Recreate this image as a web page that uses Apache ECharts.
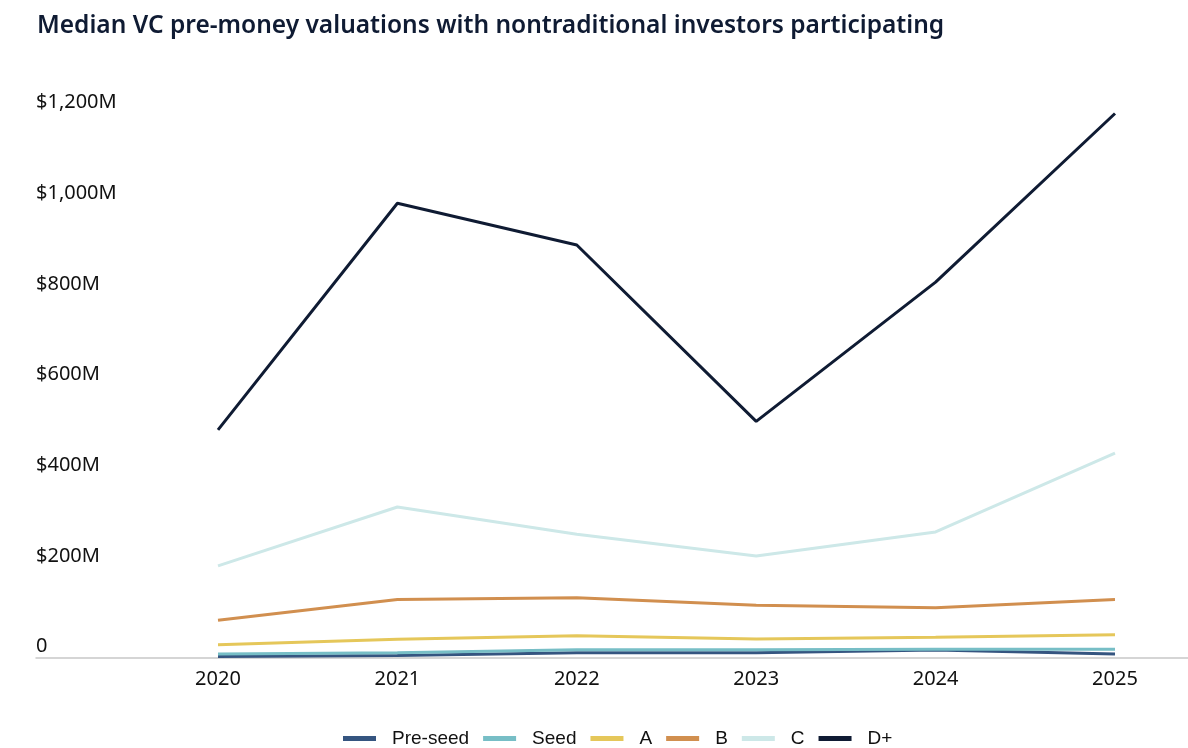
<!DOCTYPE html>
<html>
<head>
<meta charset="utf-8">
<script src="https://cdn.jsdelivr.net/npm/echarts@6/dist/echarts.min.js"></script>
<style>
html,body{margin:0;padding:0;background:#fff;}
#chart{width:1188px;height:748px;}
</style>
</head>
<body>
<div id="chart"></div>
<script>
const years = ['2020', '2021', '2022', '2023', '2024', '2025'];
const preSeed = [2, 4.4, 10.6, 10.6, 16.5, 7.7];
const seed = [7.7, 10.6, 17, 17, 18, 18];
const seriesA = [28, 40, 48, 41, 44.5, 50];
const seriesB = [82, 128, 132, 115, 110, 128];
const seriesC = [202, 332, 272, 224, 277, 451];
const seriesD = [502, 1002, 910, 521, 828, 1200];
const yTicks = [0, 200, 400, 600, 800, 1000, 1200];

const names = ['Pre-seed', 'Seed', 'A', 'B', 'C', 'D+'];
const colors = ['#355580', '#77bec6', '#e5c75a', '#d18f4f', '#cde8e8', '#0f1b33'];
const data = [preSeed, seed, seriesA, seriesB, seriesC, seriesD];

const chart = echarts.init(document.getElementById('chart'));
chart.setOption({
  animation: false,
  backgroundColor: '#ffffff',
  title: {
    text: 'Median VC pre-money valuations with nontraditional investors participating',
    left: 32, top: 9,
    textStyle: { fontFamily: 'Noto Sans', fontWeight: 600, fontSize: 24.5, color: '#0f1b33' }
  },
  legend: {
    left: 343, top: 729, padding: 0,
    itemWidth: 33, itemHeight: 5, itemGap: 14,
    icon: 'rect',
    lineStyle: { width: 4.5 },
    data: names,
    textStyle: { fontFamily: 'Liberation Sans', fontSize: 19, color: '#111', padding: [0, 0, 0, 11] }
  },
  grid: [
    { left: 218, right: 73, top: 113.5, bottom: 90.5 },
    { left: 36, right: 0, top: 113.5, bottom: 90.5 }
  ],
  xAxis: [
    {
      type: 'category', gridIndex: 0, data: years, boundaryGap: false,
      axisLine: { show: false }, axisTick: { show: false },
      axisLabel: { fontFamily: 'Noto Sans', fontSize: 20, color: '#111', margin: 12 }
    },
    {
      type: 'value', gridIndex: 1, min: 0, max: 1,
      axisLine: { show: true, lineStyle: { color: '#c8c8c8', width: 1.5 } },
      axisTick: { show: false }, axisLabel: { show: false }, splitLine: { show: false }
    }
  ],
  yAxis: [
    {
      type: 'value', gridIndex: 0, min: yTicks[0], max: yTicks[yTicks.length - 1], interval: 200,
      axisLine: { show: false }, axisTick: { show: false }, splitLine: { show: false },
      axisLabel: {
        align: 'left', margin: 182, verticalAlign: 'bottom', padding: [0, 0, 1, 0],
        fontFamily: 'Noto Sans', fontSize: 20, color: '#111',
        formatter: v => v === 0 ? '0' : '$' + v.toLocaleString('en-US') + 'M'
      }
    },
    { type: 'value', gridIndex: 1, show: false, min: 0, max: 1 }
  ],
  series: names.map((n, i) => ({
    name: n, type: 'line', xAxisIndex: 0, yAxisIndex: 0,
    data: data[i], symbol: 'none', clip: false,
    lineStyle: { color: colors[i], width: 3 },
    itemStyle: { color: colors[i] }
  }))
});
</script>
</body>
</html>
